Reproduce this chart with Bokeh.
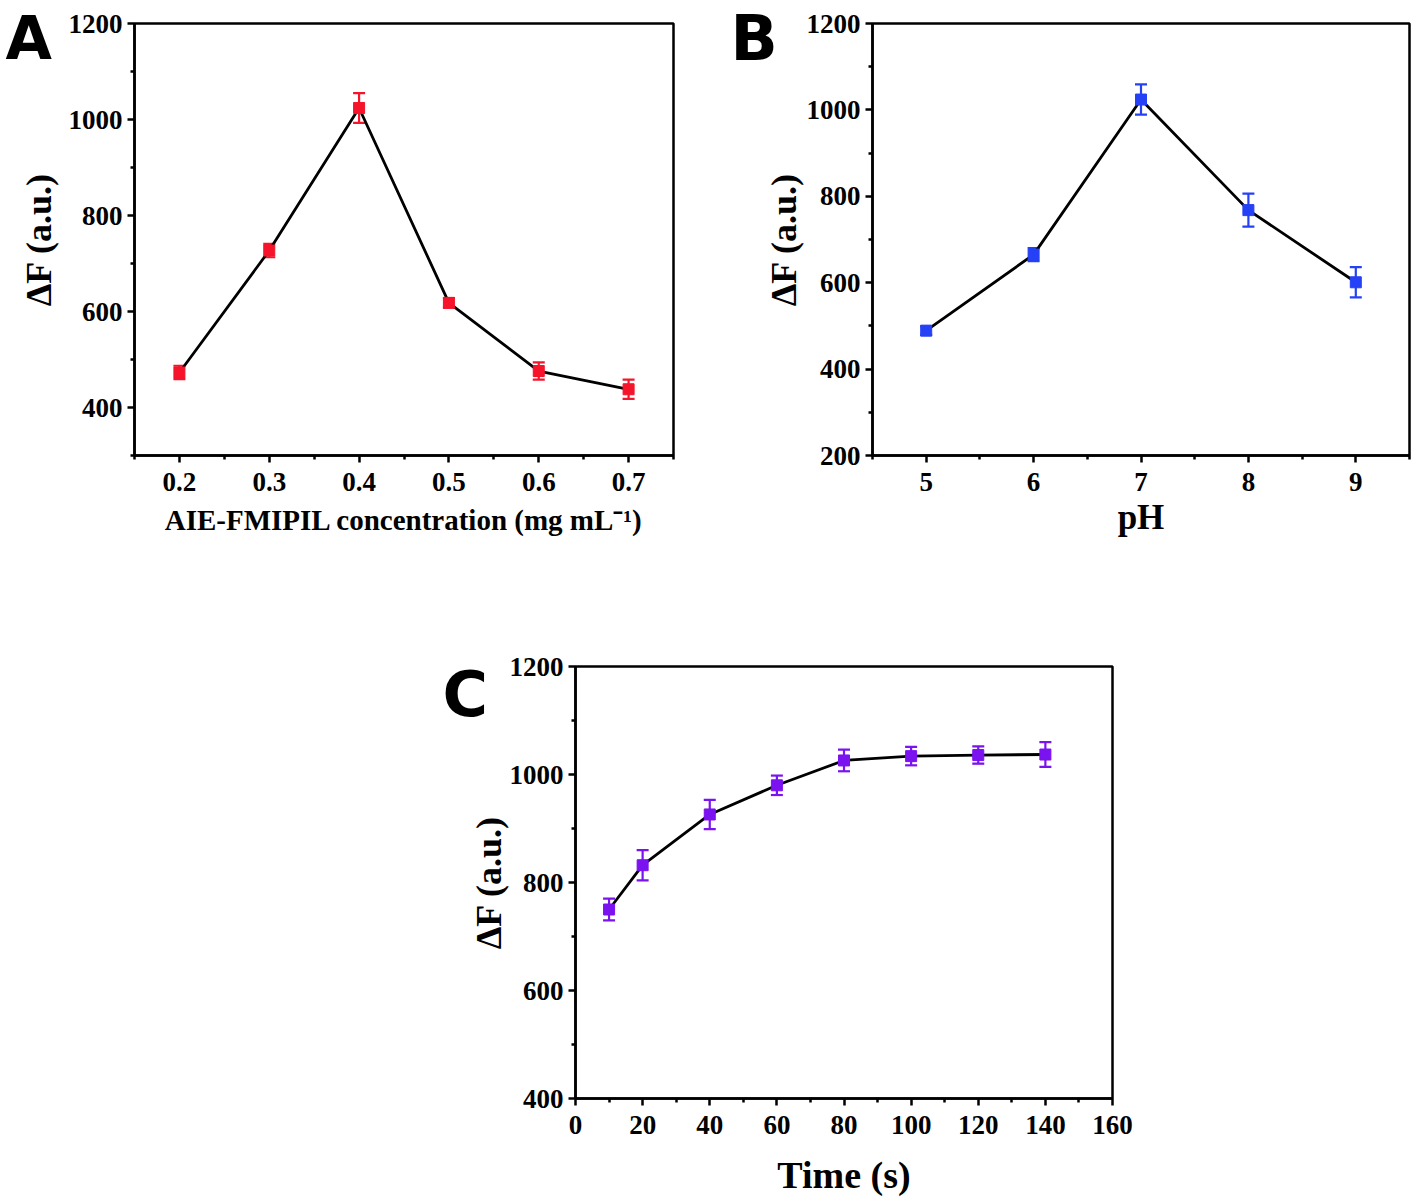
from bokeh.plotting import figure
from bokeh.models import (ColumnDataSource, Whisker, TeeHead, FixedTicker, Label,
                          Range1d, Spacer)
from bokeh.layouts import column, row
from bokeh.embed import file_html
from bokeh.resources import INLINE

# ---------------- data ----------------
conc = [0.2, 0.3, 0.4, 0.5, 0.6, 0.7]
conc_dF = [473, 727, 1024, 618, 476, 438]
conc_err = [14, 14, 31, 10, 18, 20]

ph = [5, 6, 7, 8, 9]
ph_dF = [489, 665, 1024, 768, 601]
ph_err = [10, 15, 35, 38, 35]

time_s = [10, 20, 40, 60, 80, 100, 120, 140]
time_dF = [750, 832, 926, 980, 1026, 1034, 1036, 1037]
time_err = [20, 28, 27, 18, 20, 17, 16, 23]

A_xticks = [0.2, 0.3, 0.4, 0.5, 0.6, 0.7]
A_xminor = [0.15, 0.25, 0.35, 0.45, 0.55, 0.65, 0.75]
A_yticks = [400, 600, 800, 1000, 1200]
A_yminor = [300, 500, 700, 900, 1100]

B_xticks = [5, 6, 7, 8, 9]
B_xminor = [4.5, 5.5, 6.5, 7.5, 8.5, 9.5]
B_yticks = [200, 400, 600, 800, 1000, 1200]
B_yminor = [300, 500, 700, 900, 1100]

C_xticks = [0, 20, 40, 60, 80, 100, 120, 140, 160]
C_xminor = [10, 30, 50, 70, 90, 110, 130, 150]
C_yticks = [400, 600, 800, 1000, 1200]
C_yminor = [500, 700, 900, 1100]

SERIF = "Liberation Serif"
LETTER_FONT = "DejaVu Sans"


def make_panel(x, y, err, color, xr, yr, xt, xm, yt, ym, xlabel, letter,
               width, height, bl, br, bt, bb, letter_xy, letter_side, letter_size,
               xlabel_size, xlabel_standoff, ylabel_standoff):
    p = figure(width=width, height=height, output_backend="svg",
               toolbar_location=None, x_range=Range1d(*xr), y_range=Range1d(*yr),
               min_border_left=bl, min_border_right=br, min_border_top=bt,
               min_border_bottom=bb)
    p.xgrid.visible = False
    p.ygrid.visible = False
    p.outline_line_color = "black"
    p.outline_line_width = 2.5
    p.background_fill_color = "white"
    p.border_fill_color = "white"

    p.xaxis.ticker = FixedTicker(ticks=xt, minor_ticks=xm)
    p.yaxis.ticker = FixedTicker(ticks=yt, minor_ticks=ym)
    for ax in (p.xaxis[0], p.yaxis[0]):
        ax.axis_line_width = 2.5
        ax.axis_line_color = "black"
        ax.major_tick_line_width = 2.5
        ax.minor_tick_line_width = 2.5
        ax.major_tick_out = 7
        ax.major_tick_in = 0
        ax.minor_tick_out = 4
        ax.minor_tick_in = 0
        ax.major_label_text_font = SERIF
        ax.major_label_text_font_style = "bold"
        ax.major_label_text_font_size = "27px"
        ax.major_label_text_color = "black"
        ax.axis_label_text_font = SERIF
        ax.axis_label_text_font_style = "bold"
        ax.axis_label_text_color = "black"
    p.xaxis.major_label_standoff = 10
    p.yaxis.major_label_standoff = 5
    p.xaxis.axis_label = xlabel
    p.xaxis.axis_label_text_font_size = xlabel_size
    p.xaxis.axis_label_standoff = xlabel_standoff
    p.yaxis.axis_label = "ΔF (a.u.)"
    p.yaxis.axis_label_text_font_size = "36px"
    p.yaxis.axis_label_standoff = ylabel_standoff

    upper = [v + e for v, e in zip(y, err)]
    lower = [v - e for v, e in zip(y, err)]
    src = ColumnDataSource(dict(x=x, y=y, upper=upper, lower=lower))
    p.line("x", "y", source=src, line_color="black", line_width=2.8)
    wh = Whisker(source=src, base="x", upper="upper", lower="lower",
                 line_color=color, line_width=2.2,
                 upper_head=TeeHead(size=12, line_color=color, line_width=2.2),
                 lower_head=TeeHead(size=12, line_color=color, line_width=2.2))
    p.add_layout(wh)
    p.scatter("x", "y", source=src, marker="square", size=11,
              fill_color=color, line_color=color)

    lab = Label(x=letter_xy[0], y=letter_xy[1], x_units="canvas", y_units="canvas",
                text=letter, text_font=LETTER_FONT, text_font_style="bold",
                text_font_size=letter_size, text_color="black",
                text_align="left", text_baseline="alphabetic")
    p.add_layout(lab, letter_side)
    return p


pA = make_panel(conc, conc_dF, conc_err, "#F5142A", (0.15, 0.75), (300, 1200),
                A_xticks, A_xminor, A_yticks, A_yminor,
                "AIE-FMIPIL concentration (mg mL⁻¹)", "A",
                width=693, height=630, bl=134, br=20, bt=23, bb=175,
                letter_xy=(5, 37), letter_side="below", letter_size="60px",
                xlabel_size="29px", xlabel_standoff=10, ylabel_standoff=7)

pB = make_panel(ph, ph_dF, ph_err, "#2541F5", (4.5, 9.5), (200, 1200),
                B_xticks, B_xminor, B_yticks, B_yminor,
                "pH", "B",
                width=718, height=630, bl=179, br=2, bt=22, bb=175,
                letter_xy=(37, 38), letter_side="below", letter_size="62px",
                xlabel_size="35px", xlabel_standoff=4, ylabel_standoff=0)

pC = make_panel(time_s, time_dF, time_err, "#7B12F0", (0, 160), (400, 1200),
                C_xticks, C_xminor, C_yticks, C_yminor,
                "Time (s)", "C",
                width=727, height=568, bl=160, br=30, bt=36, bb=99,
                letter_xy=(27, 64), letter_side="left", letter_size="62px",
                xlabel_size="38px", xlabel_standoff=17, ylabel_standoff=-2)

layout = column(row(pA, pB), row(Spacer(width=415, height=10), pC))

open("out.html", "w").write(file_html(layout, INLINE))
